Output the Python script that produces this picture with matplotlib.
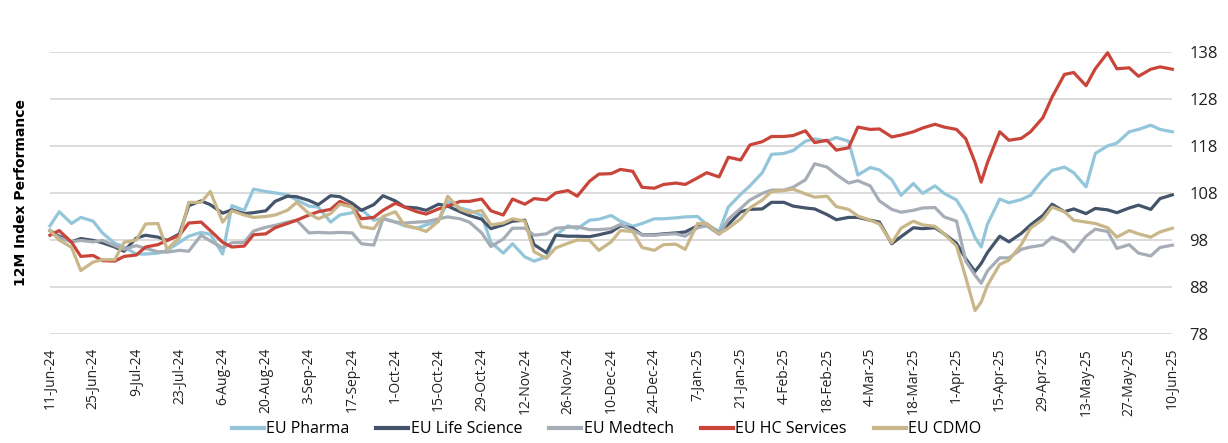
import matplotlib
matplotlib.use("Agg")
import matplotlib.pyplot as plt
import pandas as pd

plt.rcParams['font.family'] = ['Open Sans', 'DejaVu Sans']

dates = pd.to_datetime([
    "2024-06-11", "2024-06-14", "2024-06-18", "2024-06-21", "2024-06-25", "2024-06-28",
    "2024-07-02", "2024-07-05", "2024-07-09", "2024-07-12", "2024-07-16", "2024-07-19",
    "2024-07-23", "2024-07-26", "2024-07-30", "2024-08-02", "2024-08-06", "2024-08-09",
    "2024-08-13", "2024-08-16", "2024-08-20", "2024-08-23", "2024-08-27", "2024-08-30",
    "2024-09-03", "2024-09-06", "2024-09-10", "2024-09-13", "2024-09-17", "2024-09-20",
    "2024-09-24", "2024-09-27", "2024-10-01", "2024-10-04", "2024-10-08", "2024-10-11",
    "2024-10-15", "2024-10-18", "2024-10-22", "2024-10-25", "2024-10-29", "2024-11-01",
    "2024-11-05", "2024-11-08", "2024-11-12", "2024-11-15", "2024-11-19", "2024-11-22",
    "2024-11-26", "2024-11-29", "2024-12-03", "2024-12-06", "2024-12-10", "2024-12-13",
    "2024-12-17", "2024-12-20", "2024-12-24", "2024-12-27", "2024-12-31", "2025-01-03",
    "2025-01-07", "2025-01-10", "2025-01-14", "2025-01-17", "2025-01-21", "2025-01-24",
    "2025-01-28", "2025-01-31", "2025-02-04", "2025-02-07", "2025-02-11", "2025-02-14",
    "2025-02-18", "2025-02-21", "2025-02-25", "2025-02-28", "2025-03-04", "2025-03-07",
    "2025-03-11", "2025-03-14", "2025-03-18", "2025-03-21", "2025-03-25", "2025-03-28",
    "2025-04-01", "2025-04-04", "2025-04-07", "2025-04-09", "2025-04-11", "2025-04-15",
    "2025-04-18", "2025-04-22", "2025-04-25", "2025-04-29", "2025-05-02", "2025-05-06",
    "2025-05-09", "2025-05-13", "2025-05-16", "2025-05-20", "2025-05-23", "2025-05-27",
    "2025-05-30", "2025-06-03", "2025-06-06", "2025-06-10",
])

eu_pharma = [
    101, 104, 101.5, 102.8, 102, 99.5, 97.3, 96.5, 95, 95, 95.2, 95.8, 97.5, 98.8, 99.6, 99.2, 95, 105.3, 104.3,
    108.8, 108.3, 108, 107.6, 106.5, 105.2, 105, 101.8, 103.3, 103.8, 104.5, 102.2, 102.6, 101.8, 101, 100.5, 101.2,
    102, 106.2, 104.8, 104.3, 103.2, 97.5, 95.2, 97.2, 94.4, 93.5, 94.4, 99, 101, 100.4, 102.2, 102.4, 103.2, 102,
    100.9, 101.5, 102.5, 102.5, 102.7, 102.9, 103, 101.3, 99.8, 105, 107.7, 109.5, 112.3, 116.2, 116.4, 117, 119,
    119.5, 119, 119.8, 119, 111.8, 113.4, 112.9, 110.8, 107.5, 110, 107.9, 109.5, 107.9, 106.5, 103.3, 98.5, 96.5, 101.3,
    106.7, 105.9, 106.6, 107.5, 110.8, 112.8, 113.5, 112.3, 109.3, 116.4, 118, 118.6, 121, 121.5, 122.4, 121.5, 121,
]

eu_life_science = [
    100, 98.8, 97.6, 98.3, 97.9, 97.4, 96.5, 95.6, 98.4, 99, 98.6, 97.9, 99.3, 105.3, 106.3, 105.5, 103.7, 104.4, 103.6,
    103.8, 104.2, 106.2, 107.3, 107.2, 106.4, 105.5, 107.4, 107.2, 105.8, 104.3, 105.5, 107.4, 106.3, 105, 104.8, 104.3,
    105.6, 105.2, 104, 103.2, 102.4, 100.4, 101.2, 102, 102.2, 97, 95.3, 99, 98.8, 98.8, 98.7, 99.1, 99.7, 101,
    100.5, 99.1, 99.1, 99.3, 99.5, 99.7, 101, 101.4, 99.4, 101.3, 104, 104.5, 104.6, 106, 106, 105.2, 104.8,
    104.6, 103.4, 102.3, 102.8, 102.8, 102.2, 101.8, 97.2, 98.7, 100.6, 100.4, 100.6, 99.3, 97.3, 94, 91.3, 93, 95.3,
    98.8, 97.6, 99.4, 101.2, 103.2, 105.6, 104, 104.6, 103.6, 104.7, 104.4, 103.8, 104.8, 105.4, 104.5, 106.8, 107.6,
]

eu_medtech = [
    100, 98.5, 97.6, 97.9, 97.6, 97.9, 96.8, 96, 96.8, 96.2, 95.5, 95.4, 95.8, 95.6, 99, 97.8, 96.3, 97.4, 97.5,
    99.9, 100.7, 101.1, 101.8, 102.2, 99.5, 99.6, 99.5, 99.6, 99.5, 97.2, 96.9, 102.5, 101.8, 101.6, 101.8, 101.9,
    102.5, 102.9, 102.5, 101.8, 99.5, 96.6, 98.2, 100.5, 100.5, 99, 99.3, 100.5, 100.7, 100.8, 100.2, 100.2, 100.4, 101.3,
    100, 99.1, 99, 99.2, 99.3, 98.8, 100.6, 101, 99.2, 102.4, 104.7, 106.5, 107.9, 108.6, 108.6, 109.2, 110.8,
    114.2, 113.5, 111.9, 110.1, 110.6, 109.5, 106.3, 104.5, 103.9, 104.3, 104.8, 104.9, 102.9, 102, 93.5, 90.5, 88.8, 91.4,
    94.2, 94.2, 96, 96.5, 96.9, 98.6, 97.5, 95.5, 98.8, 100.3, 99.8, 96.2, 97, 95.2, 94.6, 96.4, 96.9,
]

eu_hc_services = [
    99, 100, 97.5, 94.5, 94.7, 93.6, 93.5, 94.5, 94.8, 96.5, 97, 97.9, 99, 101.6, 101.8, 100, 97.5, 96.5, 96.7,
    99.1, 99.3, 100.6, 101.5, 102.2, 103.3, 104, 104.5, 106.2, 105, 102.5, 102.8, 104.3, 105.8, 105, 104, 103.5,
    104.6, 105.2, 106.2, 106.2, 106.7, 104.2, 103.3, 106.7, 105.6, 106.8, 106.5, 108, 108.5, 107.3, 110.5, 112, 112.1, 113,
    112.6, 109.2, 109, 109.8, 110.1, 109.8, 111.2, 112.3, 111.4, 115.6, 115, 118.2, 118.9, 120, 120, 120.2, 121.2,
    118.7, 119.2, 117.1, 117.6, 122, 121.5, 121.6, 119.9, 120.3, 121, 121.8, 122.6, 122, 121.5, 119.5, 114.5, 110.3, 114.4,
    121, 119.2, 119.6, 121, 124, 128.4, 133.2, 133.6, 130.8, 134.4, 137.8, 134.4, 134.6, 132.8, 134.3, 134.8, 134.3,
]

eu_cdmo = [
    100, 98, 96.4, 91.5, 93.3, 93.8, 93.8, 97.5, 98, 101.4, 101.5, 96, 98.5, 106, 106, 108.3, 101.8, 104.2, 103.3,
    102.8, 103, 103.3, 104.3, 106, 103.6, 102.5, 103.6, 105.6, 105, 100.8, 100.4, 103, 104, 101.1, 100.5, 99.8,
    102, 107.3, 104.5, 103.8, 104.3, 101.2, 101.6, 102.5, 102, 95.5, 94.1, 96.3, 97.3, 98, 97.9, 95.8, 97.6, 100,
    99.8, 96.4, 95.8, 97, 97.1, 96, 101.5, 101.5, 99.3, 100.5, 102.5, 104.8, 106.5, 108.3, 108.5, 108.8, 107.8,
    107.1, 107.3, 105.1, 104.5, 103.1, 102.2, 101.4, 97.4, 100.5, 102, 101.2, 100.9, 99.3, 96.7, 90, 83, 84.8, 88.3,
    92.8, 93.7, 97, 100.5, 102.4, 105, 104, 102.2, 101.8, 101.5, 100.6, 98.6, 100, 99.3, 98.6, 99.7, 100.5,
]

series_names = ["EU Pharma", "EU Life Science", "EU Medtech", "EU HC Services", "EU CDMO"]
series_values = [eu_pharma, eu_life_science, eu_medtech, eu_hc_services, eu_cdmo]
series_colors = ["#93C6DA", "#44546A", "#A6ADB6", "#C9453A", "#C9B689"]

y_ticks = [78, 88, 98, 108, 118, 128, 138]
x_ticks = pd.date_range("2024-06-11", "2025-06-10", freq="14D")
x_tick_labels = [f"{d.day}-{d.strftime('%b-%y')}" for d in x_ticks]

fig = plt.figure(figsize=(12.28, 4.43), dpi=100)
ax = fig.add_axes([0.0407, 0.246, 0.914, 0.637])

for name, vals, col in zip(series_names, series_values, series_colors):
    ax.plot(dates, vals, color=col, lw=2.3, label=name, clip_on=False,
            solid_joinstyle="round")

ax.set_xlim(dates[0], dates[-1])
ax.set_ylim(78, 138)
ax.set_yticks(y_ticks)
ax.yaxis.tick_right()
ax.tick_params(axis="y", length=0, pad=12, labelsize=12, labelcolor="#222222")
ax.set_xticks(x_ticks)
ax.set_xticklabels(x_tick_labels, rotation=90, fontsize=10, color="#222222")
ax.tick_params(axis="x", length=0, pad=10)
ax.grid(axis="y", color="#D9D9D9", lw=1.3)
ax.set_axisbelow(True)
for s in ax.spines.values():
    s.set_visible(False)

fig.text(0.017, 0.565, "12M Index Performance", rotation=90, ha="center", va="center",
         fontsize=10, fontweight="bold", family=["DejaVu Sans"])

leg = fig.legend(loc="lower center", bbox_to_anchor=(0.494, -0.02), ncol=5, frameon=False,
                 fontsize=11.5, handlelength=2.0, handletextpad=0.15, columnspacing=1.7)
for h in leg.get_lines():
    h.set_linewidth(3)

fig.savefig("out.png", dpi=100)
